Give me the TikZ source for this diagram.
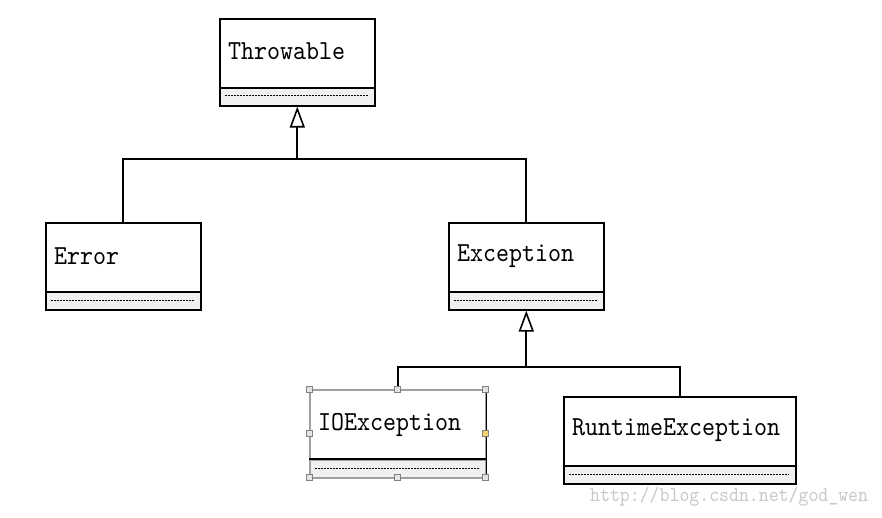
\documentclass[tikz,border=0pt]{standalone}
\usepackage{fontspec}
\newfontfamily\umlfont[FakeStretch=0.9]{lmmono10-regular.otf}
\usetikzlibrary{arrows.meta}
\definecolor{compfill}{HTML}{F0F0F0}
\definecolor{selgray}{HTML}{A0A0A0}
\definecolor{handlefill}{HTML}{E4E4E4}
\definecolor{handleyellow}{HTML}{F5D56A}
\definecolor{wmgray}{HTML}{C8C8C8}
\tikzset{
  namebox/.style={draw=black, line width=1.6pt, fill=white, anchor=north west, inner sep=0pt, minimum width=#1, minimum height=70pt},
  compbox/.style={draw=black, line width=1.6pt, fill=compfill, anchor=north west, inner sep=0pt, minimum width=#1, minimum height=18pt},
  label/.style={anchor=west, inner sep=0pt, font=\umlfont\fontsize{27.5}{27.5}\selectfont},
  conn/.style={line width=2pt},
  inherit/.style={conn, -{Triangle[open, length=21pt, width=15pt, line width=1.6pt]}},
  dots/.style={dash pattern=on 2pt off 1pt, line width=1pt},
  handle/.style={draw=gray, line width=0.5pt, fill=handlefill, minimum size=6pt, inner sep=0pt},
}
\begin{document}
\begin{tikzpicture}[x=1pt, y=-1pt]
\useasboundingbox (0,0) rectangle (882,518);
% Throwable
\node[namebox=155pt] (thr) at (219,18) {};
\node[compbox=155pt] (thrc) at (219,87) {};
\node[label] (thrt) at (228,51) {Throwable};
\draw[dots] (225,96) -- (368,96);
% Error
\node[namebox=155pt] (err) at (45,222) {};
\node[compbox=155pt] (errc) at (45,291) {};
\node[label] (errt) at (54,256) {Error};
\draw[dots] (51,300) -- (194,300);
% Exception
\node[namebox=155pt] (exc) at (448,222) {};
\node[compbox=155pt] (excc) at (448,291) {};
\node[label] (exct) at (457,256) {Exception};
\draw[dots] (454,300) -- (597,300);
% IOException (selected)
\node[namebox=176pt, draw=selgray] (ioe) at (309,389) {};
\node[compbox=176pt, draw=selgray] (ioec) at (309,459) {};
\draw[line width=1.6pt] (ioec.north west) -- (ioec.north east);
\draw[line width=1.6pt] (ioe.north east) -- (ioec.south east);
\node[label] (ioet) at (318,425) {IOException};
\draw[dots] (315,468) -- (479,468);
% RuntimeException
\node[namebox=232pt] (rte) at (563,396) {};
\node[compbox=232pt] (rtec) at (563,465) {};
\node[label] (rtet) at (572,430) {RuntimeException};
\draw[dots] (569,474) -- (789,474);
% connectors
\coordinate (j1) at (thrc.south |- 0,159);
\coordinate (j2) at (excc.south |- 0,367);
\draw[conn] (err.north) |- (j1) -| (exc.north);
\draw[inherit] (j1) -- (thrc.south);
\draw[conn] (ioe.north) |- (j2) -| (rte.north);
\draw[inherit] (j2) -- (excc.south);
% selection handles
\foreach \p in {(309,389),(397,389),(485,389),(309,433),(309,477),(397,477),(485,477)}
  \node[handle] at \p {};
\node[handle, fill=handleyellow] (hy) at (485,433) {};
% watermark
\node[anchor=west, inner sep=0pt, text=wmgray, font=\umlfont\fontsize{21}{21}\selectfont] (wm) at (590,497) {http://blog.csdn.net/god\_wen};
\end{tikzpicture}
\end{document}
